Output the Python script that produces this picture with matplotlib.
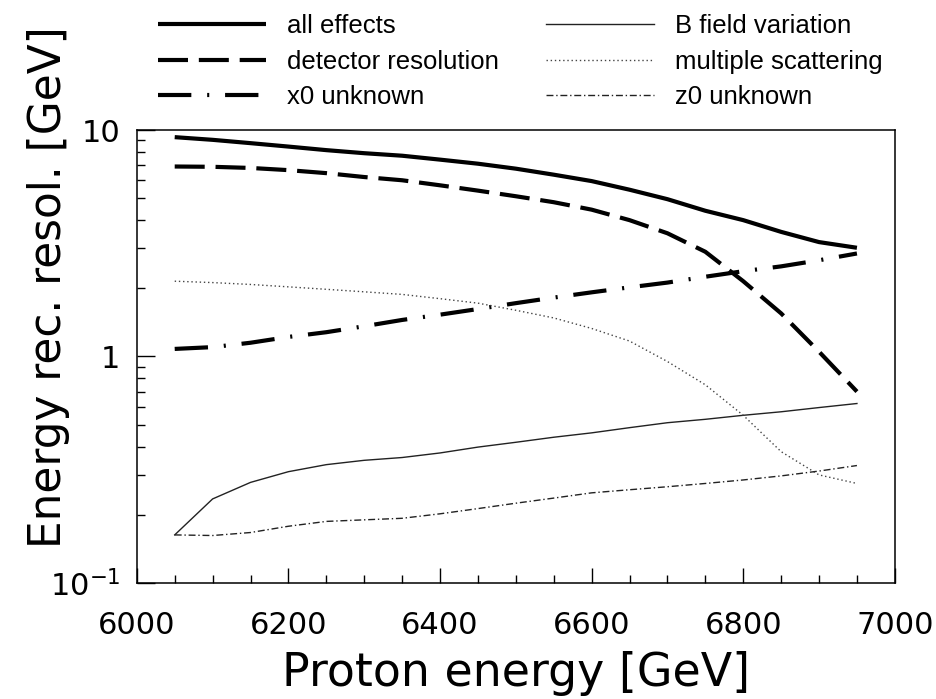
import numpy as np
import matplotlib.pyplot as plt
from matplotlib.ticker import FixedLocator, FixedFormatter, MultipleLocator, LogLocator, NullFormatter

# proton energy grid [GeV]
energy = [6050, 6100, 6150, 6200, 6250, 6300, 6350, 6400, 6450, 6500,
          6550, 6600, 6650, 6700, 6750, 6800, 6850, 6900, 6950]

# energy reconstruction resolution [GeV] per contribution
all_effects = [9.3, 9.05, 8.75, 8.45, 8.15, 7.9, 7.7, 7.4, 7.1, 6.75,
               6.35, 5.95, 5.45, 4.95, 4.4, 4.0, 3.55, 3.2, 3.02]
detector_res = [6.9, 6.88, 6.8, 6.65, 6.45, 6.2, 6.0, 5.7, 5.4, 5.1,
                4.8, 4.45, 4.0, 3.5, 2.9, 2.15, 1.55, 1.05, 0.70]
x0_unknown = [1.08, 1.1, 1.15, 1.22, 1.28, 1.36, 1.45, 1.53, 1.62, 1.72,
              1.82, 1.92, 2.02, 2.12, 2.25, 2.38, 2.5, 2.66, 2.85]
b_field = [0.163, 0.235, 0.278, 0.31, 0.333, 0.348, 0.358, 0.375, 0.398, 0.418,
           0.44, 0.46, 0.485, 0.51, 0.528, 0.55, 0.57, 0.595, 0.62]
mult_scatt = [2.15, 2.12, 2.08, 2.03, 1.98, 1.93, 1.88, 1.8, 1.72, 1.6,
              1.48, 1.33, 1.17, 0.95, 0.75, 0.55, 0.38, 0.3, 0.275]
z0_unknown = [0.163, 0.162, 0.167, 0.178, 0.187, 0.19, 0.193, 0.202, 0.213, 0.225,
              0.237, 0.25, 0.258, 0.266, 0.275, 0.285, 0.297, 0.312, 0.33]

plt.rcParams['mathtext.fontset'] = 'dejavusans'

fig = plt.figure(figsize=(9.37, 6.99), dpi=100)
ax = fig.add_axes([0.146, 0.166, 0.809, 0.648])

thick = 3.0
thin = 1.0
ax.plot(energy, all_effects, color='black', lw=thick, solid_capstyle='butt', label='all effects')
ax.plot(energy, detector_res, color='black', lw=thick, ls=(0, (7.2, 2.6)), label='detector resolution')
ax.plot(energy, x0_unknown, color='black', lw=thick, ls=(0, (8, 3.8, 0.5, 3.8)), label='x0 unknown')
ax.plot(energy, b_field, color='#222222', lw=thin, label='B field variation')
ax.plot(energy, mult_scatt, color='#444444', lw=thin, ls=(0, (1, 2)), label='multiple scattering')
ax.plot(energy, z0_unknown, color='#222222', lw=thin, ls=(0, (5, 2, 1, 2)), label='z0 unknown')

ax.set_yscale('log')
ax.set_xlim(6000, 7000)
ax.set_ylim(0.1, 10)

ax.xaxis.set_major_locator(MultipleLocator(200))
ax.xaxis.set_minor_locator(MultipleLocator(50))
ax.yaxis.set_major_locator(FixedLocator([0.1, 1, 10]))
ax.yaxis.set_major_formatter(FixedFormatter([r'$10^{-1}$', '1', '10']))
ax.yaxis.set_minor_locator(LogLocator(base=10, subs=np.arange(2, 10)))
ax.yaxis.set_minor_formatter(NullFormatter())

ax.tick_params(axis='both', which='both', direction='in', top=False, right=False,
               width=1.0, labelsize=22)
ax.tick_params(axis='x', which='major', length=11, pad=20)
ax.tick_params(axis='x', which='minor', length=6)
ax.tick_params(axis='y', which='major', length=13, pad=12)
ax.tick_params(axis='y', which='minor', length=6)
for sp in ax.spines.values():
    sp.set_linewidth(1.1)

ax.set_xlabel('Proton energy [GeV]', fontsize=33, labelpad=8)
ax.set_ylabel('Energy rec. resol. [GeV]', fontsize=31.5)
ax.yaxis.set_label_coords(-0.088, 0.653)

leg = fig.legend(loc='upper left', bbox_to_anchor=(0.169, 0.98), ncol=2,
                 frameon=False, handlelength=4.2, handletextpad=0.8,
                 columnspacing=1.85, labelspacing=0.45, borderpad=0, borderaxespad=0,
                 prop={'family': 'Liberation Sans', 'size': 18.5})

fig.savefig('out.png', dpi=100)
